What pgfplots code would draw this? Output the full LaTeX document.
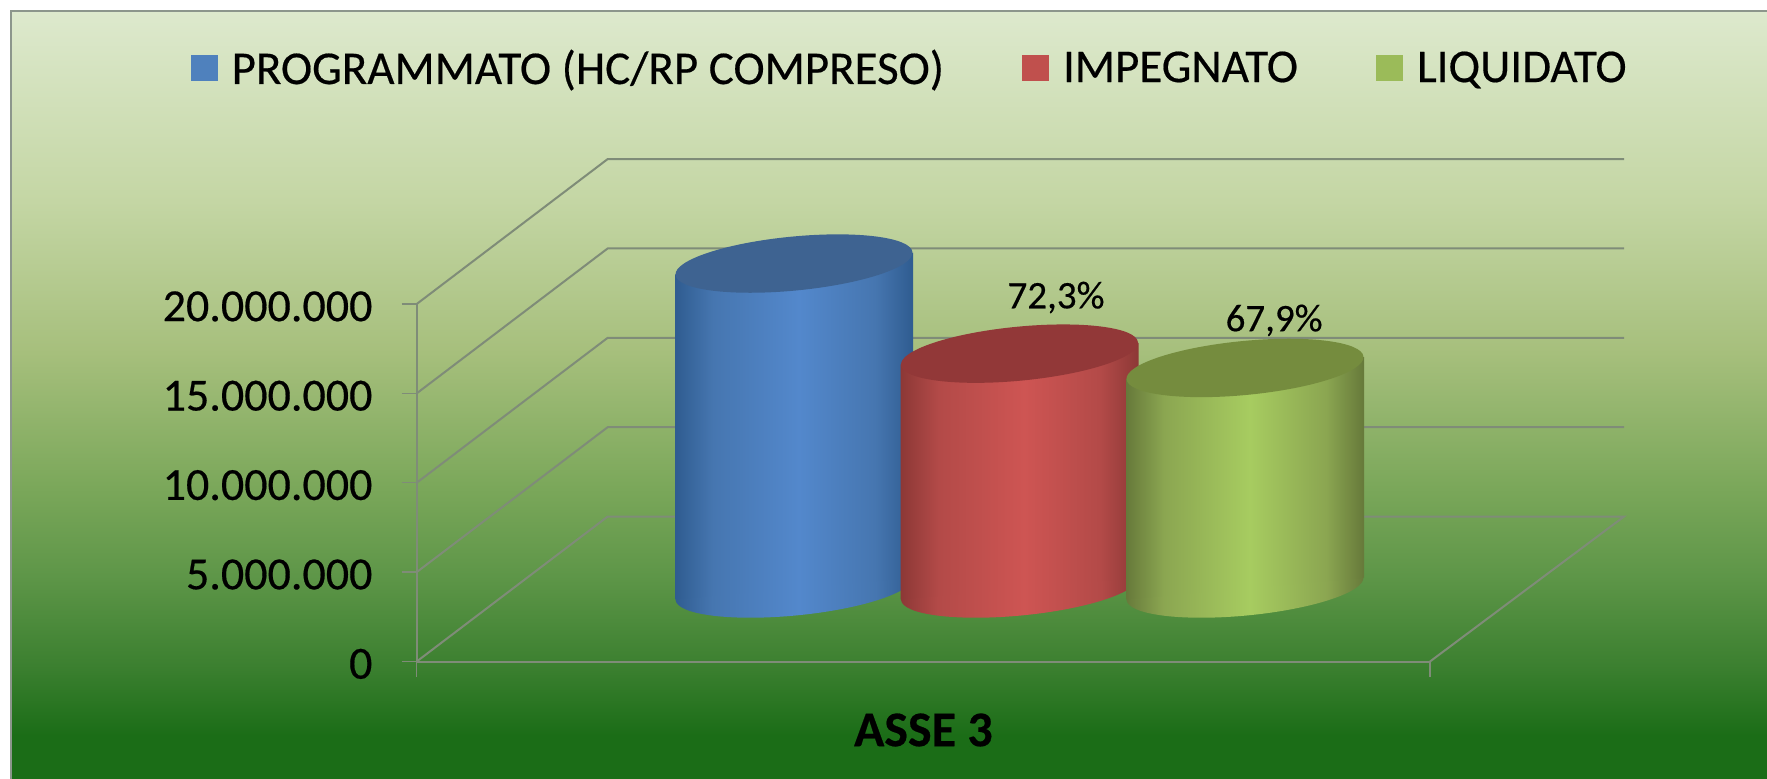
\documentclass[border=0pt]{standalone}
\usepackage{fontspec}
\setmainfont{Carlito}[FakeBold=0.4]
\usepackage{pgfplots}
\pgfplotsset{compat=1.18}

% background and cylinder colours
\definecolor{bg0}{HTML}{1B6D17}
\definecolor{bg1}{HTML}{3C8030}
\definecolor{bg2}{HTML}{5E9648}
\definecolor{bg3}{HTML}{7CA85B}
\definecolor{bg4}{HTML}{A6BF7C}
\definecolor{bg5}{HTML}{C4D6A4}
\definecolor{bg6}{HTML}{DDE9CD}
\definecolor{wall}{HTML}{7F8C78}
\definecolor{frame}{HTML}{8C968C}

\definecolor{lgblue}{HTML}{4F81BD}
\definecolor{lgred}{HTML}{C0504D}
\definecolor{lggreen}{HTML}{9BBB59}
\definecolor{topblue}{HTML}{3E6391}
\definecolor{topred}{HTML}{923838}
\definecolor{topgreen}{HTML}{758C3E}

\definecolor{blueA}{HTML}{2F5C90}
\definecolor{blueB}{HTML}{4676B0}
\definecolor{blueC}{HTML}{5388CC}
\definecolor{redA}{HTML}{8C3836}
\definecolor{redB}{HTML}{B34A48}
\definecolor{redC}{HTML}{CE5553}
\definecolor{greenA}{HTML}{66793A}
\definecolor{greenB}{HTML}{8BA651}
\definecolor{greenC}{HTML}{A7CC60}

% tikz maps a path's box onto the 25bp..75bp part of a shading
\pgfdeclareverticalshading{chartbg}{100bp}{color(0bp)=(bg0); color(28.15bp)=(bg0); color(32.7bp)=(bg1); color(38.5bp)=(bg2); color(44.45bp)=(bg3); color(52.9bp)=(bg4); color(62.7bp)=(bg5); color(75bp)=(bg6); color(100bp)=(bg6)}
\pgfdeclarehorizontalshading{cylblue}{100bp}{color(0bp)=(blueA); color(25bp)=(blueA); color(33bp)=(blueB); color(51bp)=(blueC); color(67bp)=(blueB); color(75bp)=(blueA); color(100bp)=(blueA)}
\pgfdeclarehorizontalshading{cylred}{100bp}{color(0bp)=(redA); color(25bp)=(redA); color(33bp)=(redB); color(51bp)=(redC); color(67bp)=(redB); color(75bp)=(redA); color(100bp)=(redA)}
\pgfdeclarehorizontalshading{cylgreen}{100bp}{color(0bp)=(greenA); color(25bp)=(greenA); color(33bp)=(greenB); color(51bp)=(greenC); color(67bp)=(greenB); color(75bp)=(greenA); color(100bp)=(greenA)}

% cylinder caps, tilted 5.5 degrees
\newcommand{\capellipse}{\pgfpathellipse{\pgfpointorigin}{\pgfqpoint{59.23pt}{5.70pt}}{\pgfqpoint{-1.29pt}{13.44pt}}}
\pgfdeclareplotmark{cyltop}{\capellipse\pgfusepathqfill}
\pgfdeclareplotmark{baseblue}{\capellipse\pgfshadepath{cylblue}{0}\pgfusepath{discard}}
\pgfdeclareplotmark{basered}{\capellipse\pgfshadepath{cylred}{0}\pgfusepath{discard}}
\pgfdeclareplotmark{basegreen}{\capellipse\pgfshadepath{cylgreen}{0}\pgfusepath{discard}}

\begin{document}
\begin{tikzpicture}
\path[use as bounding box,fill=white] (0,0) rectangle (883.5pt,389pt);
\shade[shading=chartbg,draw=frame,line width=1.2pt] (5.5pt,-3pt) rectangle (888pt,383.5pt);

% walls and floor
\begin{axis}[
    at={(208.35pt,58.25pt)}, anchor=south west,
    scale only axis, width=506.65pt, height=178.75pt,
    xmin=0, xmax=1, ymin=0, ymax=20000000,
    clip=false,
    axis lines=left, axis line style={-, wall, line width=1pt},
    tick style={wall, line width=0.7pt}, tick align=outside,
    major tick length=7.6pt,
    xtick={0,1}, xticklabels={},
    ytick={0,5000000,10000000,15000000,20000000},
    scaled y ticks=false,
    yticklabel style={/pgf/number format/.cd, fixed, precision=0, 1000 sep={.}, assume math mode=true, /tikz/.cd,
        font=\fontsize{23}{27}\selectfont, black, xshift=-11pt, yshift=-1.2pt},
    xlabel={\textbf{ASSE 3}},
    xlabel style={font=\fontsize{25}{30}\selectfont, black, at={(axis description cs:0.5,-0.1916)}, anchor=center},
]
\addplot[wall, line width=1pt] coordinates {(0,0) (0.1885,8110000) (1.1915,8110000) (1,0)};
\addplot[wall, line width=1pt] coordinates {(0,5000000) (0.1885,13110000) (1.1915,13110000)};
\addplot[wall, line width=1pt] coordinates {(0,10000000) (0.1885,18110000) (1.1915,18110000)};
\addplot[wall, line width=1pt] coordinates {(0,15000000) (0.1885,23110000) (1.1915,23110000)};
\addplot[wall, line width=1pt] coordinates {(0,20000000) (0.1885,28110000) (1.1915,28110000)};
\end{axis}

% cylinders: y = 0 sits at the middle of the floor
\begin{axis}[
    at={(208.35pt,58.25pt)}, anchor=south west,
    scale only axis, width=506.65pt, height=215.24pt,
    xmin=-0.6732, xmax=3.8204, ymin=-4083000, ymax=20000000,
    clip=false, clip mode=individual, hide axis,
    legend columns=3,
    legend style={at={(-0.2235,1.378)}, anchor=west, draw=none, fill=none, inner sep=0pt,
        font=\fontsize{23.5}{28}\selectfont,
        /tikz/every even column/.append style={column sep=37pt},
        /tikz/every odd column/.append style={column sep=5pt}},
    legend image code/.code={\fill[#1] (0pt,-6.5pt) rectangle (13.5pt,6.5pt);},
]
\addplot[only marks, mark=baseblue, forget plot] coordinates {(1,0)};
\addplot[draw=none, shade, shading=cylblue, mark=none, forget plot] coordinates {(0.4723,-607000) (1.5277,607000) (1.5277,18787000) (0.4723,17573000)};
\addplot[only marks, mark=cyltop, fill=lgblue, draw=none, mark options={fill=topblue, draw=none}] coordinates {(1,18180000)};
\addlegendentry{PROGRAMMATO (HC/RP COMPRESO)}

\addplot[only marks, mark=basered, forget plot] coordinates {(2,0)};
\addplot[draw=none, shade, shading=cylred, mark=none, forget plot] coordinates {(1.4723,-607000) (2.5277,607000) (2.5277,13747000) (1.4723,12533000)};
\addplot[only marks, mark=cyltop, fill=lgred, draw=none, mark options={fill=topred, draw=none}] coordinates {(2,13140000)};
\addlegendentry{IMPEGNATO}

\addplot[only marks, mark=basegreen, forget plot] coordinates {(3,0)};
\addplot[draw=none, shade, shading=cylgreen, mark=none, forget plot] coordinates {(2.4723,-607000) (3.5277,607000) (3.5277,12947000) (2.4723,11733000)};
\addplot[only marks, mark=cyltop, fill=lggreen, draw=none, mark options={fill=topgreen, draw=none}] coordinates {(3,12340000)};
\addlegendentry{LIQUIDATO}

\node[font=\fontsize{19.5}{23}\selectfont, black] at (axis cs:2.162,16280000) {72,3\%};
\node[font=\fontsize{19.5}{23}\selectfont, black] at (axis cs:3.129,15000000) {67,9\%};
\end{axis}
\end{tikzpicture}
\end{document}
